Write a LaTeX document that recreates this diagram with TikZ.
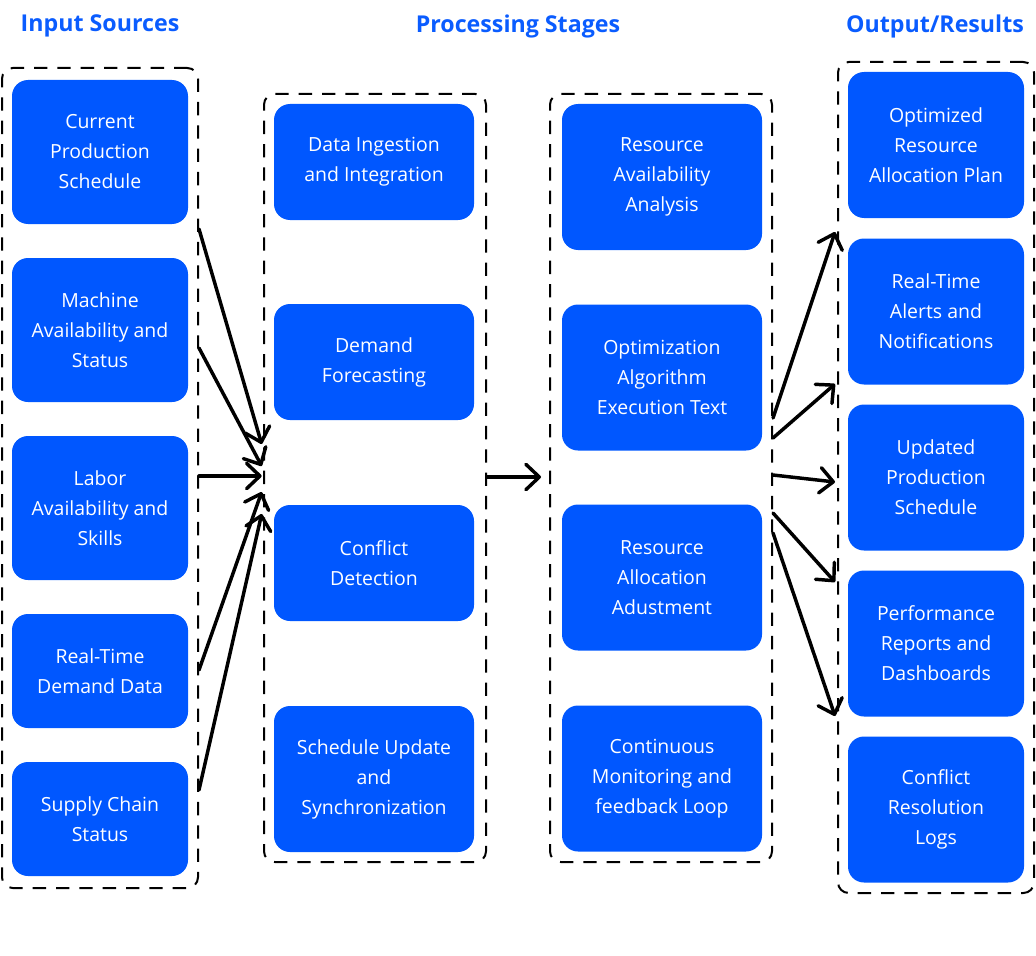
\documentclass[tikz,border=0pt]{standalone}
\usepackage{fontspec}
\setmainfont{Open Sans}
\usetikzlibrary{arrows.meta}
\definecolor{boxblue}{RGB}{0,87,255}
\definecolor{titleblue}{RGB}{10,92,255}
\begin{document}
\begin{tikzpicture}[x=0.75pt,y=-0.75pt,
  box/.style={fill=boxblue, text=white, rounded corners=12pt, align=center,
    font=\fontsize{14.6}{22.5}\selectfont, inner sep=0pt},
  colA/.style={box, minimum width=0.75*176pt},
  colB/.style={box, minimum width=0.75*200pt},
  grp/.style={draw=black, line width=1.5pt, dash pattern=on 10pt off 7.5pt,
    rounded corners=8pt, inner sep=0pt},
  ttl/.style={text=titleblue, font=\fontsize{17.4}{20}\selectfont\bfseries},
  arr/.style={-{Straight Barb[length=10pt,width=19pt,round]}, line width=2.6pt, line cap=round}
]
\useasboundingbox (0,0) rectangle (1036,956);
% titles
\node[ttl] (t1) at (100,26) {Input Sources};
\node[ttl] (t2) at (518,26) {Processing Stages};
\node[ttl] (t3) at (935,26) {Output/Results};
% groups
\node[grp, minimum width=0.75*196pt, minimum height=0.75*820pt] (g1) at (100,478) {};
\node[grp, minimum width=0.75*222pt, minimum height=0.75*768pt] (g2) at (375,478) {};
\node[grp, minimum width=0.75*222pt, minimum height=0.75*768pt] (g3) at (661,478) {};
\node[grp, minimum width=0.75*196pt, minimum height=0.75*831pt] (g4) at (936,477.5) {};
% input column
\node[colA, minimum height=0.75*144pt] (in1) at (100,152) {Current\\Production\\Schedule};
\node[colA, minimum height=0.75*144pt] (in2) at (100,330) {Machine\\Availability and\\Status};
\node[colA, minimum height=0.75*144pt] (in3) at (100,508) {Labor\\Availability and\\Skills};
\node[colA, minimum height=0.75*114pt] (in4) at (100,671) {Real-Time\\Demand Data};
\node[colA, minimum height=0.75*114pt] (in5) at (100,819) {Supply Chain\\Status};
% processing column 1
\node[colB, minimum height=0.75*116pt] (p1) at (374,162) {Data Ingestion\\and Integration};
\node[colB, minimum height=0.75*116pt] (p2) at (374,362) {Demand\\Forecasting};
\node[colB, minimum height=0.75*116pt] (p3) at (374,563) {Conflict\\Detection};
\node[colB, minimum height=0.75*146pt] (p4) at (374,779) {Schedule Update\\and\\Synchronization};
% processing column 2
\node[colB, minimum height=0.75*146pt] (q1) at (662,177) {Resource\\Availability\\Analysis};
\node[colB, minimum height=0.75*146pt] (q2) at (662,377.5) {Optimization\\Algorithm\\Execution Text};
\node[colB, minimum height=0.75*146pt] (q3) at (662,577.5) {Resource\\Allocation\\Adustment};
\node[colB, minimum height=0.75*146pt] (q4) at (662,778.5) {Continuous\\Monitoring and\\feedback Loop};
% outputs
\node[colA, minimum height=0.75*146pt] (o1) at (936,145) {Optimized\\Resource\\Allocation Plan};
\node[colA, minimum height=0.75*146pt] (o2) at (936,311.5) {Real-Time\\Alerts and\\Notifications};
\node[colA, minimum height=0.75*146pt] (o3) at (936,477.5) {Updated\\Production\\Schedule};
\node[colA, minimum height=0.75*146pt] (o4) at (936,643.5) {Performance\\Reports and\\Dashboards};
\node[colA, minimum height=0.75*146pt] (o5) at (936,809.5) {Conflict\\Resolution\\Logs};
% input arrows
\draw[arr] (g1.east |- 0,229) -- ([xshift=-1pt]g2.west |- 0,444);
\draw[arr] (g1.east |- 0,348) -- ([xshift=-1pt]g2.west |- 0,466);
\draw[arr] (g1.east |- 0,476) -- ([xshift=-1pt]g2.west |- 0,476);
\draw[arr] (g1.east |- 0,670) -- ([xshift=-1pt]g2.west |- 0,492);
\draw[arr] (g1.east |- 0,790) -- ([xshift=-1pt]g2.west |- 0,514);
% middle arrow
\draw[arr, shorten >=6pt] (g2.east |- 0,477) -- (g3.west |- 0,477);
% output arrows
\draw[arr] (g3.east |- 0,418) -- ([xshift=-1.5pt]g4.west |- 0,232);
\draw[arr] (g3.east |- 0,438) -- ([xshift=-1.5pt]g4.west |- 0,384);
\draw[arr] (g3.east |- 0,475) -- ([xshift=-1.5pt]g4.west |- 0,482);
\draw[arr] (g3.east |- 0,513) -- ([xshift=-1.5pt]g4.west |- 0,582);
\draw[arr] (g3.east |- 0,533) -- ([xshift=-1.5pt]g4.west |- 0,716);
\end{tikzpicture}
\end{document}
